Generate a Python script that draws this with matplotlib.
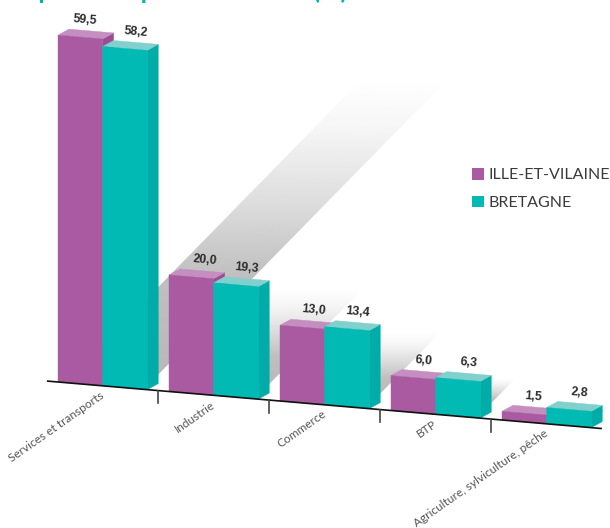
import numpy as np
import matplotlib
matplotlib.use('Agg')
import matplotlib.pyplot as plt
from matplotlib.patches import Polygon, Patch
from matplotlib.transforms import Affine2D

categories = ['Services et transports', 'Industrie', 'Commerce', 'BTP', 'Agriculture, sylviculture, pêche']
ille_et_vilaine = [59.5, 20.0, 13.0, 6.0, 1.5]
bretagne = [58.2, 19.3, 13.4, 6.3, 2.8]
series_names = ['ILLE-ET-VILAINE', 'BRETAGNE']
title = 'Répartition par secteurs      (%)'

purple = ('#aa5aa0', '#c48fc0', '#9c4c93')
teal = ('#00bab3', '#80d0cd', '#00aca7')
shadow_stops = [0, 0.35, 0.6, 0.83, 1]
shadow_greys = [0.72, 0.75, 0.87, 0.96, 1.0]
label_off = [0.24, 0.32, 0.30, 0.29, 0.28]

bar_w = 0.402
depth_x = 0.099   # 3d look: side face going back and up
depth_v = 1.19

fig = plt.figure(figsize=(6.1, 5.28), dpi=100)
ax = fig.add_axes([0, 0, 1, 1])
ax.axis('off')

# chart units (category, percent) to picture pixels, the whole thing is tilted
tilt = Affine2D.from_values(111, 9.5, 0, -5.83, 58, 382)
skew = tilt + ax.transData


def draw_bar(x, val, cols, z):
    front = [(x, 0), (x + bar_w, 0), (x + bar_w, val), (x, val)]
    top = [(x, val), (x + bar_w, val), (x + bar_w + depth_x, val + depth_v), (x + depth_x, val + depth_v)]
    side = [(x + bar_w, 0), (x + bar_w + depth_x, depth_v), (x + bar_w + depth_x, val + depth_v), (x + bar_w, val)]
    for pts, c in ((side, cols[2]), (top, cols[1]), (front, cols[0])):
        ax.add_patch(Polygon(pts, closed=True, fc=c, ec=c, lw=0.3, transform=skew, zorder=z))


# fading shadows behind the bars
grad = np.interp(np.linspace(0, 1, 256), shadow_stops, shadow_greys).reshape(-1, 1)
for i in range(len(categories)):
    val = max(ille_et_vilaine[i], bretagne[i])
    k = 0.045 * val
    m = 0.948 * val
    pts = [(i + 0.06, 0), (i + 0.83, 1.2), (i + 0.83 + k, 1.2 + m), (i + 0.06 + k, m)]
    px = tilt.transform(pts)
    im = ax.imshow(grad, cmap='gray', vmin=0, vmax=1, origin='lower', aspect='auto', zorder=1,
                   extent=(px[:, 0].min(), px[:, 0].max(), px[:, 1].max(), px[:, 1].min()))
    clip = Polygon(pts, closed=True, transform=skew, fc='none', ec='none')
    ax.add_patch(clip)
    im.set_clip_path(clip)

# bars and their value labels
for i in range(len(categories)):
    draw_bar(i, ille_et_vilaine[i], purple, 3)
    draw_bar(i + bar_w, bretagne[i], teal, 4)
    for off, val in ((label_off[i], ille_et_vilaine[i]), (0.70, bretagne[i])):
        ax.text(i + off, val + 3.0, f'{val:.1f}'.replace('.', ','), transform=skew,
                family='Liberation Sans', weight='bold', fontsize=8.8,
                color='#2b2b2b', ha='center', va='center', rotation=-5, zorder=6)

# axis, ticks, category labels
ax.plot([-0.1, 4.9], [0, 0], color='#111111', lw=1.2, transform=skew, zorder=5, solid_capstyle='butt')
for i in range(4):
    ax.plot([i + 0.9, i + 0.9], [0, -2.2], color='#444444', lw=1.2, transform=skew, zorder=5)
for i, name in enumerate(categories):
    ax.text(i + 0.40, -1.4, name, transform=skew, family='Lato', fontsize=8.6,
            color='#555555', ha='right', va='center', rotation=35, rotation_mode='anchor')

# title is cut by the top of the picture, only descenders remain
ax.text(9, -1, title, family='Lato', weight='bold', fontsize=18, color='#00b5ad', ha='left', va='baseline')

handles = [Patch(fc=purple[0], ec='none', label=series_names[0]), Patch(fc=teal[0], ec='none', label=series_names[1])]
ax.legend(handles=handles, loc='upper left', bbox_to_anchor=(472, 168), bbox_transform=ax.transData,
          frameon=False, handlelength=0.75, handleheight=0.75, handletextpad=0.3, labelspacing=0.82,
          borderpad=0, borderaxespad=0,
          prop={'family': 'Lato', 'size': 11.5}, labelcolor='#3a3a3a')

ax.set_xlim(0, 610)
ax.set_ylim(528, 0)
fig.savefig('out.png', dpi=100, facecolor='white')
